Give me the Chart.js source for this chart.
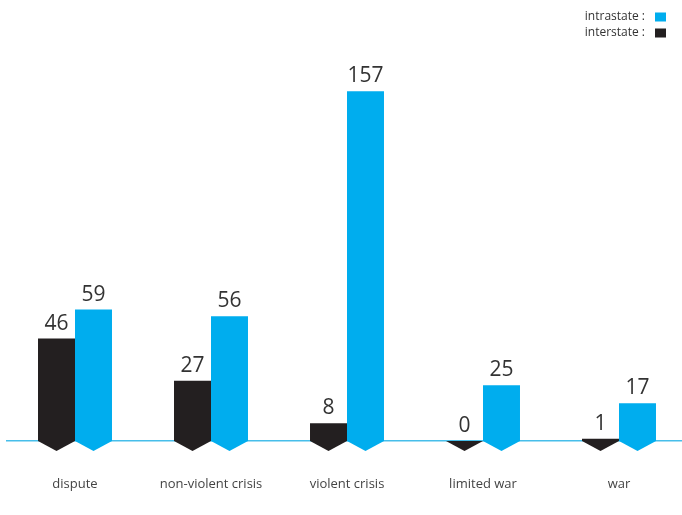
<!DOCTYPE html>
<html>
<head>
<meta charset="utf-8">
<script src="https://cdn.jsdelivr.net/npm/chart.js@4"></script>
<style>
  html, body { margin:0; padding:0; background:#fff; overflow:hidden; }
  #wrap { width:682px; height:515px; overflow:hidden; }
</style>
</head>
<body>
<div id="wrap"><canvas id="chart" width="687" height="515"></canvas></div>
<script>
const categories = ['dispute', 'non-violent crisis', 'violent crisis', 'limited war', 'war'];
const interstate = [46, 27, 8, 0, 1];
const intrastate = [59, 56, 157, 25, 17];

const BLACK = '#231F20';
const CYAN = '#00ADEE';
const FONT = '"Open Sans", "Noto Sans", sans-serif';

// little arrow heads under each bar + value on top
const barDecor = {
  id: 'barDecor',
  afterDatasetsDraw(chart) {
    const ctx = chart.ctx;
    chart.data.datasets.forEach((ds, i) => {
      const meta = chart.getDatasetMeta(i);
      meta.data.forEach((bar, j) => {
        const half = bar.width / 2;
        ctx.save();
        ctx.fillStyle = ds.backgroundColor;
        ctx.beginPath();
        ctx.moveTo(bar.x - half, bar.base);
        ctx.lineTo(bar.x + half, bar.base);
        ctx.lineTo(bar.x, bar.base + 10);
        ctx.closePath();
        ctx.fill();

        ctx.fillStyle = '#333';
        ctx.font = '21px ' + FONT;
        ctx.textAlign = 'center';
        ctx.textBaseline = 'alphabetic';
        ctx.fillText(ds.data[j], bar.x, bar.y - 9);
        ctx.restore();
      });
    });
  }
};

// legend in the top right corner, label then swatch
const cornerLegend = {
  id: 'cornerLegend',
  afterDraw(chart) {
    const ctx = chart.ctx;
    const items = chart.data.datasets.slice().reverse();
    ctx.save();
    ctx.font = '12px ' + FONT;
    ctx.textAlign = 'right';
    ctx.textBaseline = 'middle';
    items.forEach((ds, k) => {
      const y = 17 + k * 16;
      ctx.fillStyle = '#333';
      ctx.fillText(ds.label + ' :', 645, y);
      ctx.fillStyle = ds.backgroundColor;
      ctx.fillRect(655, y - 4.5, 11, 9);
    });
    ctx.restore();
  }
};

new Chart(document.getElementById('chart'), {
  type: 'bar',
  data: {
    labels: categories,
    datasets: [
      { label: 'interstate', data: interstate, backgroundColor: BLACK },
      { label: 'intrastate', data: intrastate, backgroundColor: CYAN }
    ]
  },
  options: {
    responsive: false,
    animation: false,
    layout: { padding: { top: 40, left: 7, right: 0, bottom: 0 } },
    datasets: { bar: { categoryPercentage: 0.544, barPercentage: 1.0 } },
    plugins: { legend: { display: false }, tooltip: { enabled: false } },
    scales: {
      x: {
        z: 1,
        grid: { display: false, drawTicks: false },
        border: { display: true, color: '#47BEEA', width: 1.5 },
        ticks: { color: '#444', padding: 35, font: { family: FONT, size: 13 } },
        afterFit(scale) { scale.height = 74; }
      },
      y: { display: false, min: 0, max: 180 }
    }
  },
  plugins: [barDecor, cornerLegend]
});
</script>
</body>
</html>
